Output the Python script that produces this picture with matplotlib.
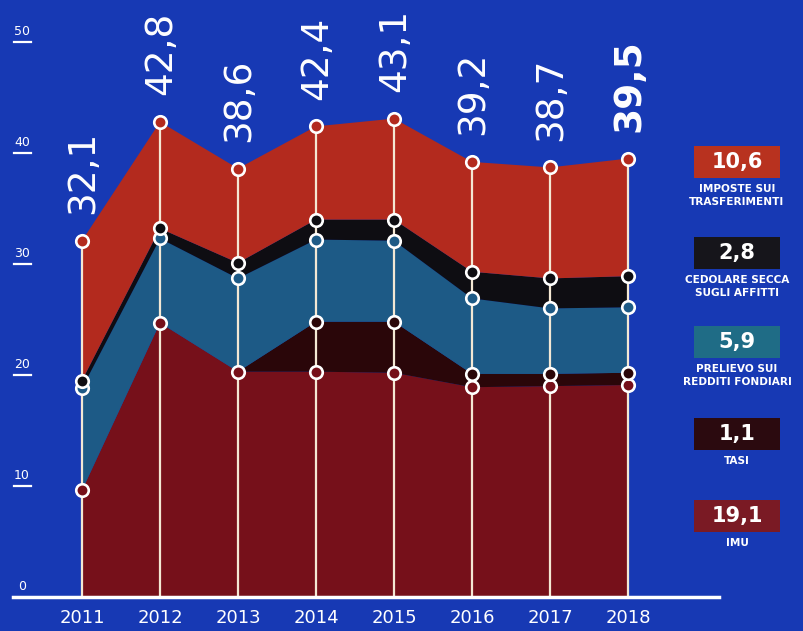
import matplotlib
matplotlib.use("Agg")
import matplotlib.pyplot as plt
from matplotlib.patches import Rectangle

years = [2011, 2012, 2013, 2014, 2015, 2016, 2017, 2018]
imu = [9.6, 24.7, 20.3, 20.3, 20.2, 18.9, 19.0, 19.1]
tasi = [0.0, 0.0, 0.0, 4.5, 4.6, 1.2, 1.1, 1.1]
prelievo = [9.2, 7.6, 8.4, 7.4, 7.3, 6.8, 5.9, 5.9]
cedolare = [0.7, 0.9, 1.4, 1.8, 1.9, 2.4, 2.7, 2.8]
trasferimenti = [12.6, 9.6, 8.5, 8.4, 9.1, 9.9, 10.0, 10.6]
totals = [32.1, 42.8, 38.6, 42.4, 43.1, 39.2, 38.7, 39.5]
total_labels = ["32,1", "42,8", "38,6", "42,4", "43,1", "39,2", "38,7", "39,5"]

legend_values = ["10,6", "2,8", "5,9", "1,1", "19,1"]
legend_names = ["IMPOSTE SUI\nTRASFERIMENTI", "CEDOLARE SECCA\nSUGLI AFFITTI",
                "PRELIEVO SUI\nREDDITI FONDIARI", "TASI", "IMU"]
yticks = [0, 10, 20, 30, 40, 50]

BG = "#1739b4"
C_IMU = "#76101a"
C_TASI = "#2a0609"
C_PREL = "#1d5a86"
C_CED = "#0e0d12"
C_TRAS = "#b32a1e"
BOX_COLORS = ["#b8321f", "#16151b", "#1f6c86", "#2b0a0f", "#7a1a24"]
LINE = "#f4e8d4"

W, H = 804, 631
fig = plt.figure(figsize=(W / 100, H / 100), dpi=100)
fig.patch.set_facecolor(BG)
ax = fig.add_axes([0, 0, 1, 1])
ax.set_facecolor(BG)
for s in ax.spines.values():
    s.set_visible(False)
ax.set_xticks([])
ax.set_yticks([])

# pixel mapping -> axis limits
px_per_year = 78.0
x0 = years[0] - 82 / px_per_year
x1 = x0 + W / px_per_year
py_per_unit = 11.1
y_top = 597 / py_per_unit
y_bot = -(H - 597) / py_per_unit
ax.set_xlim(x0, x1)
ax.set_ylim(y_bot, y_top)

layers = [imu, tasi, prelievo, cedolare, trasferimenti]
colors = [C_IMU, C_TASI, C_PREL, C_CED, C_TRAS]
ax.stackplot(years, *layers, colors=colors, linewidth=0, zorder=1)

# vertical lines
for yr, t in zip(years, totals):
    ax.plot([yr, yr], [0, t], color=LINE, lw=1.6, zorder=3)

# circles at boundaries
cum = [0.0] * len(years)
for layer, col in zip(layers, colors):
    cum = [c + v for c, v in zip(cum, layer)]
    for i, yr in enumerate(years):
        if layer[i] > 0:
            ax.plot(yr, cum[i], marker="o", ms=9, mfc=col, mec="white",
                    mew=1.9, zorder=5)

# baseline
def xf(px):
    return px / W
ax.axhline(0, xmin=xf(13), xmax=xf(719), color="white", lw=2.5, zorder=4)

# y tick labels with underline
for v in yticks:
    ax.text(x0 + 22 / px_per_year, v + 0.35, str(v), color="white",
            fontsize=9, ha="center", va="bottom", family="DejaVu Sans", zorder=6)
    if v > 0:
        ax.plot([x0 + 14 / px_per_year, x0 + 31 / px_per_year], [v, v],
                color="white", lw=1.6, zorder=6)

# x labels
for yr in years:
    ax.text(yr, -1.85, str(yr), color="white", fontsize=13, ha="center",
            va="center", zorder=6)

# total labels (rotated)
for i, (yr, t, lab) in enumerate(zip(years, totals, total_labels)):
    ax.text(yr + 0.02, t + 2.4, lab, color="white", fontsize=27, rotation=90,
            ha="center", va="bottom",
            fontweight="bold" if i == len(years) - 1 else "normal", zorder=6)

# legend boxes
box_tops = [146, 237, 326, 418, 500]
for val, name, col, top in zip(legend_values, legend_names, BOX_COLORS, box_tops):
    fig.patches.append(Rectangle((694 / W, 1 - (top + 32) / H), 86 / W, 32 / H,
                                 transform=fig.transFigure, facecolor=col,
                                 edgecolor="none", zorder=2))
    fig.text(737 / W, 1 - (top + 16) / H, val, color="white", fontsize=15,
             fontweight="bold", ha="center", va="center")
    fig.text(737 / W, 1 - (top + 38) / H, name, color="white", fontsize=7.6,
             fontweight="bold", ha="center", va="top", linespacing=1.35)

fig.savefig("out.png", dpi=100, facecolor=BG)
